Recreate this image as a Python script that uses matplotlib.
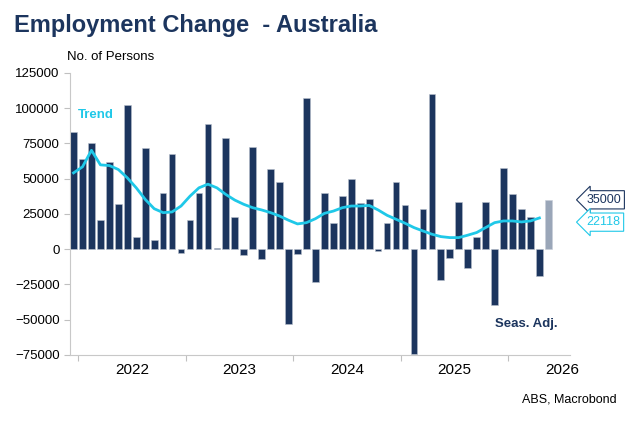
import numpy as np
import matplotlib
matplotlib.use("Agg")
import matplotlib.pyplot as plt

# --- Dados (Dez/2021 a Mai/2026) ---
NAVY = '#1c355e'
CYAN = '#1fc8e8'

change = [82800, 64000, 75000, 20500, 61700, 31800, 102400, 8500, 71800, 6800,
          39500, 67500, -3000, 20700, 39500, 88500, 900, 79000, 22600, -4200,
          72500, -7300, 57000, 47800, -53200, -3700, 107300, -23500, 39500, 18800,
          37900, 50100, 33000, 35800, -1600, 18400, 47300, 31000, -74600, 28500,
          110100, -21600, -6600, 33400, -13400, 8700, 33400, -39300, 57400, 39300,
          28200, 23000, -19100]
forecast = 35000 # barra cinza

trend = [54100, 58400, 70100, 59800, 59300, 56500, 50600, 43500, 35300, 28700,
         25900, 26400, 30600, 37600, 43500, 46100, 43500, 38800, 34800, 31800,
         29400, 27800, 25900, 23500, 20500, 17900, 18800, 21600, 25400, 27000,
         29400, 30600, 30600, 31000, 27800, 24000, 21200, 18400, 15300, 12900,
         10600, 8900, 8200, 8200, 9900, 11800, 15300, 18800, 20000, 20000,
         19300, 20000, 22118]

years = ['2022', '2023', '2024', '2025', '2026']


def main():
    plt.rcParams['font.family'] = 'Liberation Sans'
    fig = plt.figure(figsize=(6.36, 4.24), dpi=100)
    ax = fig.add_axes([0.11, 0.163, 0.786, 0.665])

    x = np.arange(len(change))
    ax.bar(x, change, width=0.75, color=NAVY, edgecolor='#b8c0cc', linewidth=0.4)
    ax.bar(len(change), forecast, width=0.75, color='#9aa6b8', edgecolor='#c8ced8', linewidth=0.4)
    ax.plot(np.arange(len(trend)), trend, color=CYAN, linewidth=2)

    # Eixos
    ax.set_ylim(-75000, 125000)
    ax.set_yticks(np.arange(-75000, 125001, 25000))
    ax.set_xlim(-0.4, 55.4)
    ax.set_xticks([0.5 + 12 * i for i in range(5)])
    ax.set_xticklabels([])
    ax.set_xticks([6.5 + 12 * i for i in range(5)], minor=True)
    ax.set_xticklabels(years, minor=True, fontsize=11)
    ax.tick_params(axis='x', which='minor', length=0, pad=6)
    ax.tick_params(axis='x', which='major', length=4, color='#c0c0c0')
    ax.tick_params(axis='y', length=4, color='#c0c0c0', labelsize=9.5)
    for s in ['top', 'right']:
        ax.spines[s].set_visible(False)
    ax.spines['left'].set_color('#c8c8c8')
    ax.spines['bottom'].set_color('#c8c8c8')

    # Textos
    fig.text(0.022, 0.925, 'Employment Change  - Australia', fontsize=17, fontweight='bold', color=NAVY)
    fig.text(0.105, 0.858, 'No. of Persons', fontsize=9.5)
    fig.text(0.97, 0.05, 'ABS, Macrobond', fontsize=9, ha='right')
    ax.text(0.5, 93000, 'Trend', color=CYAN, fontsize=9.5, fontweight='bold')
    ax.text(47, -55000, 'Seas. Adj.', color=NAVY, fontsize=9.5, fontweight='bold')

    # Rótulos do último valor
    ax.annotate(f'{forecast}', xy=(1.0, forecast), xycoords=('axes fraction', 'data'),
                xytext=(12, 0), textcoords='offset points', va='center', fontsize=9,
                color=NAVY, annotation_clip=False,
                bbox=dict(boxstyle='larrow,pad=0.25', fc='white', ec=NAVY, lw=0.8))
    ax.annotate(f'{trend[-1]}', xy=(1.0, trend[-1]), xycoords=('axes fraction', 'data'),
                xytext=(12, -3), textcoords='offset points', va='center', fontsize=9,
                color=CYAN, annotation_clip=False,
                bbox=dict(boxstyle='larrow,pad=0.25', fc='white', ec=CYAN, lw=0.8))

    fig.savefig('out.png', dpi=100)


if __name__ == "__main__":
    main()
